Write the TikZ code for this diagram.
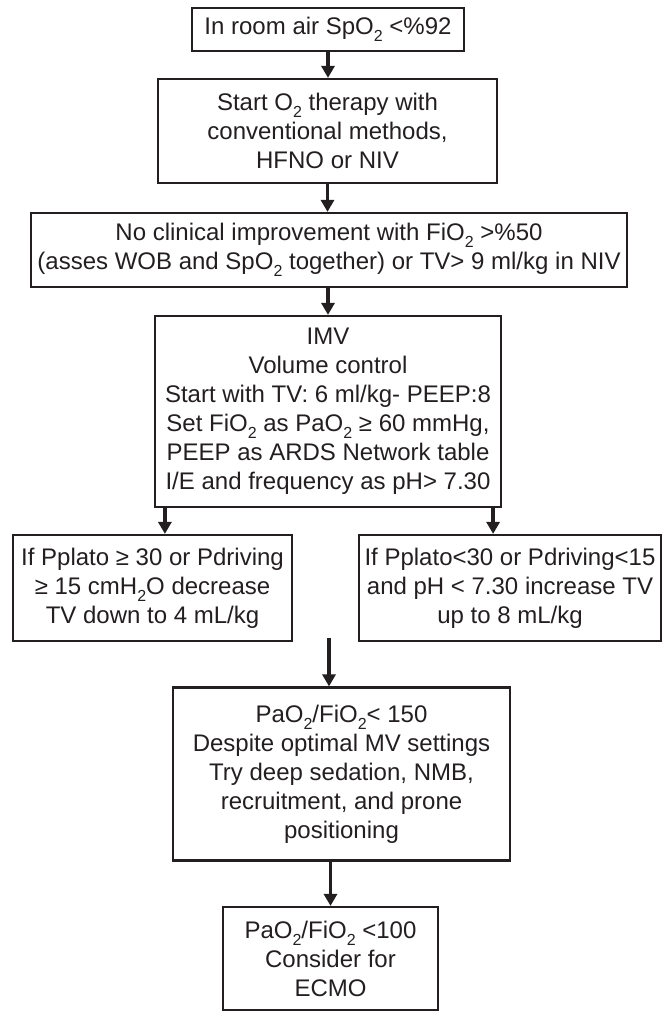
\documentclass[tikz,border=0pt]{standalone}
\usepackage{fontspec}
\setmainfont{Liberation Sans}
\usetikzlibrary{positioning,arrows.meta}
\definecolor{inkgray}{HTML}{231F20}
\newcommand{\lowidx}[1]{\raisebox{-0.55ex}{\fontsize{8}{8}\selectfont #1}}

\begin{document}
\begin{tikzpicture}[x=0.5pt, y=-0.5pt, every node/.style={inner xsep=1pt, inner ysep=3pt},
                    stepbox/.style={draw=inkgray, line width=1.1pt, text=inkgray, align=center,
                                    font=\fontsize{12}{14.5}\selectfont},
                    flowarrow/.style={-{Triangle[width=6.5pt,length=6pt]}, inkgray, line width=1.7pt}]
  \useasboundingbox (0,0) rectangle (667,1011);
  \node[stepbox, minimum width=136pt, minimum height=21.5pt] (room) at (328,29.5)
    {In room air SpO\lowidx{2} <\%92};
  \node[stepbox, minimum width=169.5pt, minimum height=52pt] (start) at (327.5,131)
    {Start O\lowidx{2} therapy with\\conventional methods,\\HFNO or NIV};
  \node[stepbox, minimum width=298pt, minimum height=37pt] (noimprove) at (329,250)
    {No clinical improvement with FiO\lowidx{2} >\%50\\(asses WOB and SpO\lowidx{2} together) or TV> 9 ml/kg in NIV};
  \node[stepbox, minimum width=173pt, minimum height=95.5pt] (imv) at (328,411.5)
    {IMV\\Volume control\\Start with TV: 6 ml/kg- PEEP:8\\Set FiO\lowidx{2} as PaO\lowidx{2} ≥ 60 mmHg,\\PEEP as ARDS Network table\\I/E and frequency as pH> 7.30};
  \node[stepbox, minimum width=139.5pt, minimum height=53pt] (decrease) at (152.5,588)
    {If Pplato ≥ 30 or Pdriving\\≥ 15 cmH\lowidx{2}O decrease\\TV down to 4 mL/kg};
  \node[stepbox, minimum width=151pt, minimum height=53pt] (increase) at (510,588)
    {If Pplato<30 or Pdriving<15\\and pH < 7.30 increase TV\\up to 8 mL/kg};
  \node[stepbox, minimum width=168.5pt, minimum height=86.5pt] (despite) at (341.5,774)
    {PaO\lowidx{2}/FiO\lowidx{2}< 150\\Despite optimal MV settings\\Try deep sedation, NMB,\\recruitment, and prone\\positioning};
  \node[stepbox, minimum width=107.5pt, minimum height=51.5pt] (ecmo) at (330.5,958.5)
    {PaO\lowidx{2}/FiO\lowidx{2} <100\\Consider for\\ECMO};
  \coordinate (merge) at (329,638);

  \draw[flowarrow] (room.south) -- (room.south |- start.north);
  \draw[flowarrow] (start.south) -- (start.south |- noimprove.north);
  \draw[flowarrow] (imv.north |- noimprove.south) -- (imv.north);
  \draw[flowarrow] ([xshift=5.5pt]imv.south west) -- ([xshift=5.5pt]imv.south west |- decrease.north);
  \draw[flowarrow] ([xshift=-4.5pt]imv.south east) -- ([xshift=-4.5pt]imv.south east |- increase.north);
  \draw[flowarrow] (merge) -- (merge |- despite.north);
  \draw[flowarrow] (ecmo.north |- despite.south) -- (ecmo.north);
\end{tikzpicture}
\end{document}
